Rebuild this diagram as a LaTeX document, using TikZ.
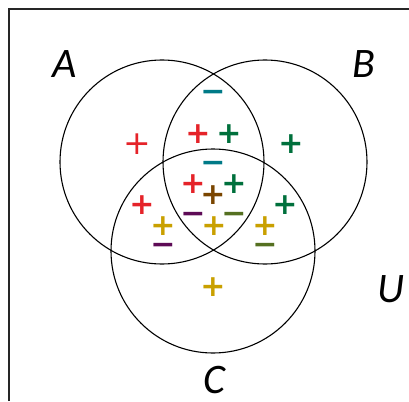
\documentclass[tikz,border=0pt]{standalone}
\usepackage{fontspec}
\newfontfamily\signfont{DejaVu Sans}
\newfontfamily\namefont{Carlito}
\definecolor{sred}{HTML}{E52329}
\definecolor{sgreen}{HTML}{00703C}
\definecolor{steal}{HTML}{007A87}
\definecolor{sbrown}{HTML}{7A4500}
\definecolor{spurple}{HTML}{5E0B56}
\definecolor{solive}{HTML}{557021}
\definecolor{sgold}{HTML}{C9A000}

\begin{document}
\begin{tikzpicture}[
  x=1pt, y=-1pt,
  setc/.style={draw, circle, minimum size=204pt, inner sep=0pt, line width=1.1pt},
  setname/.style={font=\namefont\itshape\fontsize{42}{42}\selectfont, inner sep=0pt},
  pl/.style={font=\signfont\bfseries\fontsize{30}{30}\selectfont, inner sep=0pt, yshift=-2pt},
  thinpl/.style={font=\signfont\fontsize{33}{33}\selectfont, inner sep=0pt, yshift=-2pt},
  mn/.style={font=\signfont\bfseries\fontsize{30}{30}\selectfont, inner sep=0pt, yshift=-4.5pt}
]
  \useasboundingbox (0,0) rectangle (409,401);

  % universe frame, cut by the page on the right and bottom
  \draw[line width=1.4pt, black!85] (9,401) -- (9,9) -- (409,9);

  % the three sets
  \node[setc] (A) at (162,162) {};
  \node[setc] (B) at (265,162) {};
  \node[setc] (C) at (213,251) {};

  \node[setname] (nA) at (65,64) {A};
  \node[setname] (nB) at (364,64) {B};
  \node[setname] (nC) at (214,380) {C};
  \node[setname] (nU) at (391,289) {U};

  % signs
  \node[thinpl, text=sred] (s1) at (137,142) {+};
  \node[pl, text=sred] (s2) at (198,132) {+};
  \node[pl, text=sgreen] (s3) at (229,132) {+};
  \node[pl, text=sgreen] (s4) at (291,142) {+};
  \node[mn, text=steal] (s5) at (213,91) {−};
  \node[mn, text=steal] (s6) at (213,162) {−};
  \node[pl, text=sred] (s7) at (193,182) {+};
  \node[pl, text=sbrown] (s8) at (213,193) {+};
  \node[pl, text=sgreen] (s9) at (234,182) {+};
  \node[pl, text=sgreen] (s10) at (285,203) {+};
  \node[pl, text=sred] (s11) at (142,203) {+};
  \node[mn, text=spurple] (s12) at (193,213) {−};
  \node[mn, text=solive] (s13) at (234,213) {−};
  \node[pl, text=sgold] (s14) at (163,224) {+};
  \node[pl, text=sgold] (s15) at (214,224) {+};
  \node[pl, text=sgold] (s16) at (265,224) {+};
  \node[mn, text=spurple] (s17) at (163,244) {−};
  \node[mn, text=solive] (s18) at (265,244) {−};
  \node[pl, text=sgold] (s19) at (213,285) {+};
\end{tikzpicture}
\end{document}
